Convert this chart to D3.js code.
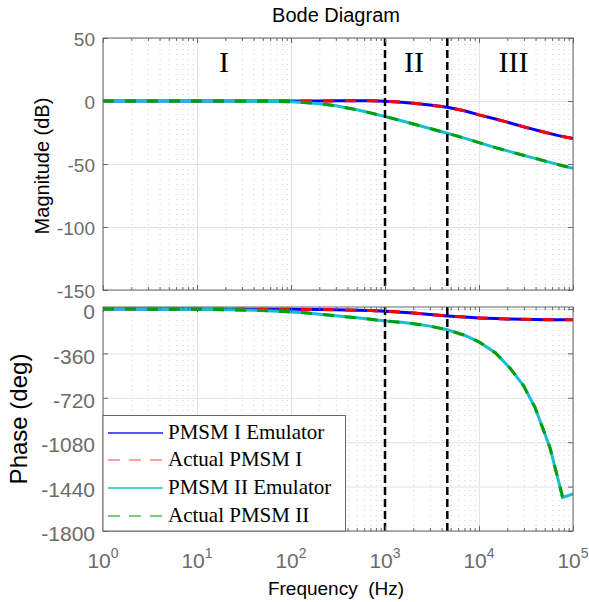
<!DOCTYPE html>
<html><head><meta charset="utf-8">
<script src="https://cdn.jsdelivr.net/npm/d3@7"></script>
<style>body{margin:0;background:#fff;} svg{display:block;}</style>
</head><body>
<svg id="c" width="589" height="602"></svg>
<script>
// ---- data ----
const freqI   = [1,10,100,200,300,500,700,1000,1500,2000,3000,4600,7000,10000,15000,20000,30000,50000,70000,100000];
const magI    = [0,0,0,0.05,0.1,0.15,0.1,-0.2,-0.9,-1.7,-3.2,-5.0,-7.8,-11.0,-14.3,-16.8,-20.5,-24.8,-27.5,-29.8];
const phaseI  = [0,-0.2,-2,-4,-6,-9.5,-13,-18,-26,-33,-45,-56,-66,-73,-78,-81,-84,-86.5,-87.5,-88];
const freqII  = [1,10,50,100,150,200,300,500,700,1000,1500,2000,3000,4600,7000,10000,15000,21400,29600,39400,56900,77700,100000];
const magII   = [0,-0.01,-0.17,-0.6,-1.3,-2.1,-3.8,-6.9,-9.4,-12.3,-15.7,-18.2,-21.8,-25.6,-29.5,-33.0,-37.0,-40.2,-43.0,-45.5,-48.7,-51.4,-53.4];
const phaseII = [-0.25,-2.5,-12,-23.6,-33.5,-42,-55.5,-72,-83,-98,-108,-119,-139,-169,-213,-267,-356,-480,-619,-797,-1124,-1528,-1500];
const seriesNames = ["PMSM I Emulator","Actual PMSM I","PMSM II Emulator","Actual PMSM II"];
const seriesColors = ["#0000ff","#ff0000","#17becf","#00a000"];
const legendColors = ["#1a1aff","#ff8080","#17becf","#4cbf4c"];
const magTicks = [50,0,-50,-100,-150];
const phaseTicks = [0,-360,-720,-1080,-1440,-1800];
const decades = [1,10,100,1000,10000,100000];
const regionLines = [1000,4600];
const regionLabels = [{t:"I",f:19.4},{t:"II",f:2040},{t:"III",f:23300}];

// ---- scales ----
const x = d3.scaleLog().domain([1,1e5]).range([103,573]);
const yMag = d3.scaleLinear().domain([-150,50]).range([290,38]);
const yPh = d3.scaleLinear().domain([-1800,16]).range([531,307]);
const minors = [];
decades.slice(0,-1).forEach(d=>{for(let k=2;k<10;k++) minors.push(d*k);});

const svg = d3.select("#c");
const sans = "'Liberation Sans', Arial, sans-serif";
const serif = "'Liberation Serif', 'Times New Roman', serif";
const axisCol = "#666";

function panel(y, ticks){
  const [y1,y0] = y.range();
  const h = y1 - y0;
  const g = svg.append("g");
  g.append("g").attr("transform",`translate(0,${y1})`)
    .call(d3.axisBottom(x).tickValues(minors).tickSize(-h).tickFormat(""))
    .call(s=>{s.select(".domain").remove(); s.selectAll("line").attr("stroke","#cfcfcf").attr("stroke-dasharray","1,4");});
  g.append("g").attr("transform",`translate(0,${y1})`)
    .call(d3.axisBottom(x).tickValues(decades).tickSize(-h).tickFormat(""))
    .call(s=>{s.select(".domain").remove(); s.selectAll("line").attr("stroke","#e3e3e3");});
  g.append("g").attr("transform",`translate(103,0)`)
    .call(d3.axisLeft(y).tickValues(ticks).tickSize(-470).tickFormat(""))
    .call(s=>{s.select(".domain").remove(); s.selectAll("line").attr("stroke","#e3e3e3");});
  return g;
}
function frame(y, ticks, labelSize, dy){
  const [y1,y0] = y.range();
  const g = svg.append("g");
  const style = s=>{s.select(".domain").remove(); s.selectAll("line").attr("stroke",axisCol);};
  g.append("g").attr("transform",`translate(0,${y1})`).call(d3.axisBottom(x).tickValues(decades).tickSizeInner(-5).tickSizeOuter(0).tickFormat("")).call(style);
  g.append("g").attr("transform",`translate(0,${y1})`).call(d3.axisBottom(x).tickValues(minors).tickSizeInner(-3).tickSizeOuter(0).tickFormat("")).call(style);
  g.append("g").attr("transform",`translate(0,${y0})`).call(d3.axisTop(x).tickValues(decades).tickSizeInner(-5).tickSizeOuter(0).tickFormat("")).call(style);
  g.append("g").attr("transform",`translate(0,${y0})`).call(d3.axisTop(x).tickValues(minors).tickSizeInner(-3).tickSizeOuter(0).tickFormat("")).call(style);
  g.append("g").attr("transform",`translate(573,0)`).call(d3.axisRight(y).tickValues(ticks).tickSizeInner(-5).tickSizeOuter(0).tickFormat("")).call(style);
  g.append("g").attr("transform",`translate(103,0)`)
    .call(d3.axisLeft(y).tickValues(ticks).tickSizeInner(-5).tickSizeOuter(0).tickPadding(8).tickFormat(d=>String(d)))
    .call(style)
    .call(s=>s.selectAll("text").attr("fill","#6b6b6b").attr("dy",dy).style("font-family",sans).style("font-size",labelSize+"px"));
  g.append("rect").attr("x",103).attr("y",y0).attr("width",470).attr("height",y1-y0)
    .attr("fill","none").attr("stroke",axisCol).attr("stroke-width",1);
  return g;
}

function curves(y, vals){
  const mk = (fs, vs) => fs.map((f,i)=>({f, v:vs[i]}));
  const line = d3.line().x(d=>x(d.f)).y(d=>y(d.v));
  const data = [mk(freqI,vals[0]), mk(freqI,vals[0]), mk(freqII,vals[1]), mk(freqII,vals[1])];
  const clipId = "clip"+Math.round(y.range()[1]);
  svg.append("clipPath").attr("id",clipId).append("rect")
    .attr("x",103).attr("y",y.range()[1]).attr("width",470).attr("height",y.range()[0]-y.range()[1]);
  const g = svg.append("g").attr("clip-path",`url(#${clipId})`);
  data.forEach((d,i)=>{
    g.append("path").attr("d",line(d)).attr("fill","none")
      .attr("stroke",seriesColors[i]).attr("stroke-width",3)
      .attr("stroke-dasharray", i%2 ? "11,11" : null);
  });
}
function vlines(y){
  regionLines.forEach(f=>{
    svg.append("line").attr("x1",x(f)).attr("x2",x(f)).attr("y1",y.range()[1]).attr("y2",y.range()[0])
      .attr("stroke","#000").attr("stroke-width",2.5).attr("stroke-dasharray","8,4");
  });
}

// magnitude panel
panel(yMag, magTicks);
curves(yMag, [magI, magII]);
vlines(yMag);
frame(yMag, magTicks, 19, "0.4em");
regionLabels.forEach(r=>{
  svg.append("text").attr("x",x(r.f)).attr("y",72).attr("text-anchor","middle")
    .style("font-family",serif).style("font-size","30px").attr("fill","#000").text(r.t);
});

// phase panel
panel(yPh, phaseTicks);
curves(yPh, [phaseI, phaseII]);
vlines(yPh);
frame(yPh, phaseTicks, 21, "0.46em");

// x tick labels with superscripts
decades.forEach((d,i)=>{
  const t = svg.append("text").attr("x",x(d)).attr("y",568).attr("text-anchor","middle")
    .attr("fill","#6b6b6b").style("font-family",sans);
  t.append("tspan").style("font-size","21px").text("10");
  t.append("tspan").style("font-size","14px").attr("dy",-10).text(String(i));
});

// legend
const lg = svg.append("g");
lg.append("rect").attr("x",103).attr("y",415.5).attr("width",242.5).attr("height",115.5)
  .attr("fill","#fff").attr("stroke",axisCol).attr("stroke-width",1);
seriesNames.forEach((n,i)=>{
  const base = 438.5 + i*27.7;
  lg.append("line").attr("x1",108).attr("x2",163).attr("y1",Math.round(base-6)).attr("y2",Math.round(base-6))
    .attr("stroke",legendColors[i]).attr("stroke-width",1.5)
    .attr("stroke-dasharray", i%2 ? "12,9" : null);
  lg.append("text").attr("x",168).attr("y",base).attr("fill","#000")
    .style("font-family",serif).style("font-size","21px").text(n);
});

// titles
svg.append("text").attr("x",336).attr("y",22).attr("text-anchor","middle")
  .style("font-family",sans).style("font-size","20px").attr("fill","#000").text("Bode Diagram");
svg.append("text").attr("transform","translate(49,166) rotate(-90)").attr("text-anchor","middle")
  .style("font-family",sans).style("font-size","20px").attr("fill","#000").text("Magnitude (dB)");
svg.append("text").attr("transform","translate(27,419) rotate(-90)").attr("text-anchor","middle")
  .style("font-family",sans).style("font-size","24px").attr("fill","#000").text("Phase (deg)");
svg.append("text").attr("x",336).attr("y",595).attr("text-anchor","middle").attr("xml:space","preserve")
  .style("white-space","pre").style("font-family",sans).style("font-size","19px").attr("fill","#000").text("Frequency  (Hz)");
</script>
</body></html>
